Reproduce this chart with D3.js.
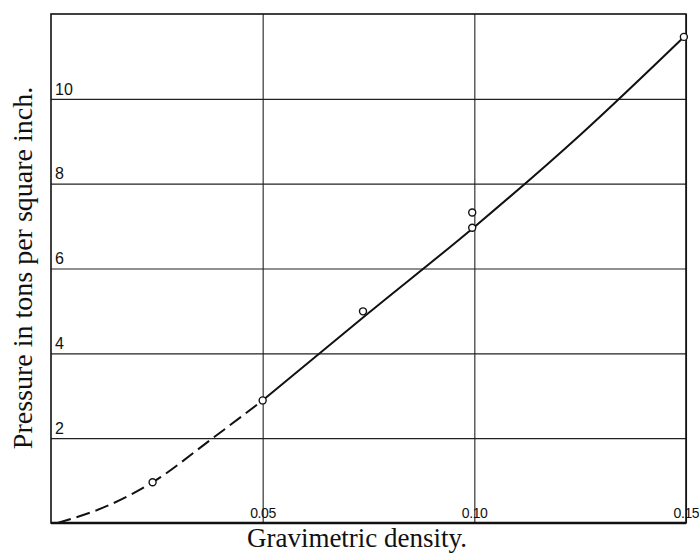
<!DOCTYPE html>
<html>
<head>
<meta charset="utf-8">
<script src="https://cdn.jsdelivr.net/npm/d3@7"></script>
<style>
  body { margin: 0; background: #fff; }
  svg text { fill: #111; }
</style>
</head>
<body>
<div id="chart"></div>
<script>
// observed points (circles)
var obsDensity  = [0.024, 0.05, 0.0737, 0.0995, 0.0995, 0.1495];
var obsPressure = [0.96, 2.89, 4.99, 7.32, 6.96, 11.46];

// fitted curve, dashed part then solid part
var dashDensity  = [0.0015, 0.0137, 0.024, 0.0382, 0.05];
var dashPressure = [0.0, 0.42, 0.96, 2.0, 2.89];
var solidDensity  = [0.05, 0.075, 0.1, 0.125, 0.1495];
var solidPressure = [2.89, 4.95, 6.98, 9.15, 11.46];

var xTicks = [0.05, 0.10, 0.15];
var yTicks = [2, 4, 6, 8, 10];

var W = 699, H = 556;
var margin = {top: 14, right: 13, bottom: 33, left: 51},
    width = W - margin.left - margin.right,
    height = H - margin.top - margin.bottom;

var svg = d3.select("#chart")
  .append("svg")
  .attr("width", W)
  .attr("height", H)
  .append("g")
  .attr("transform", "translate(" + margin.left + "," + margin.top + ")");

var x = d3.scaleLinear().domain([0, 0.15]).range([0, width]);
var y = d3.scaleLinear().domain([0, 12]).range([height, 0]);

// horizontal grid + labels
var yAxis = svg.append("g")
  .call(d3.axisRight(y).tickValues(yTicks).tickSize(width).tickFormat(d3.format("d")));
yAxis.select(".domain").remove();
yAxis.selectAll("line").attr("stroke", "#222").attr("stroke-width", 1.1);
yAxis.selectAll("text")
  .attr("x", 4).attr("dy", "-0.3em")
  .style("text-anchor", "start")
  .attr("font-family", "Liberation Sans, Arial, sans-serif")
  .attr("font-size", 16);

// vertical grid + labels
var xAxis = svg.append("g")
  .attr("transform", "translate(0," + height + ")")
  .call(d3.axisTop(x).tickValues(xTicks).tickSize(height).tickFormat(d3.format(".2f")));
xAxis.select(".domain").remove();
xAxis.selectAll("line").attr("stroke", "#222").attr("stroke-width", 1.1);
xAxis.selectAll("text")
  .attr("y", -5).attr("dy", 0).attr("x", -13)
  .style("text-anchor", "start")
  .attr("letter-spacing", -0.4)
  .attr("font-family", "Liberation Sans, Arial, sans-serif")
  .attr("font-size", 14);

// frame
svg.append("rect")
  .attr("x", 0).attr("y", 0)
  .attr("width", width).attr("height", height)
  .attr("fill", "none")
  .attr("stroke", "#111")
  .attr("stroke-width", 1.6);
svg.append("line")
  .attr("x1", 0).attr("x2", width)
  .attr("y1", height).attr("y2", height)
  .attr("stroke", "#111").attr("stroke-width", 2.4);

var line = d3.line()
  .x(function(d) { return x(d[0]); })
  .y(function(d) { return y(d[1]); })
  .curve(d3.curveMonotoneX);

svg.append("path")
  .datum(d3.zip(dashDensity, dashPressure))
  .attr("d", line)
  .attr("fill", "none")
  .attr("stroke", "#111")
  .attr("stroke-width", 2)
  .attr("stroke-dasharray", "14,6");

svg.append("path")
  .datum(d3.zip(solidDensity, solidPressure))
  .attr("d", line)
  .attr("fill", "none")
  .attr("stroke", "#111")
  .attr("stroke-width", 2);

svg.selectAll("circle.obs")
  .data(d3.zip(obsDensity, obsPressure))
  .enter()
  .append("circle")
  .attr("class", "obs")
  .attr("cx", function(d) { return x(d[0]); })
  .attr("cy", function(d) { return y(d[1]); })
  .attr("r", 3.5)
  .attr("fill", "#fff")
  .attr("stroke", "#111")
  .attr("stroke-width", 1.4);

// axis titles
svg.append("text")
  .attr("x", 357 - margin.left)
  .attr("y", 547 - margin.top)
  .attr("text-anchor", "middle")
  .attr("font-family", "Liberation Serif, Times New Roman, serif")
  .attr("font-size", 27)
  .text("Gravimetric density.");

svg.append("text")
  .attr("transform", "translate(" + (32 - margin.left) + "," + (268 - margin.top) + ") rotate(-90)")
  .attr("text-anchor", "middle")
  .attr("font-family", "Liberation Serif, Times New Roman, serif")
  .attr("font-size", 28)
  .text("Pressure in tons per square inch.");
</script>
</body>
</html>
